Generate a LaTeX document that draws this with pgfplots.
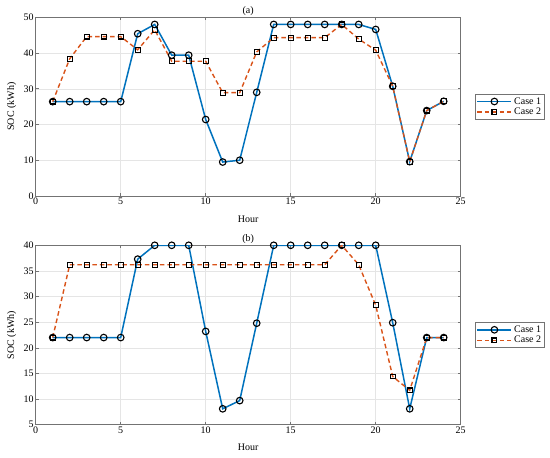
\documentclass[border=0pt]{standalone}
\usepackage{pgfplots}
\pgfplotsset{compat=1.18}
\usepackage{fontspec}
\setmainfont{Liberation Serif}
\definecolor{mblue}{rgb}{0,0.447,0.741}
\definecolor{morange}{rgb}{0.85,0.325,0.098}
\pgfplotsset{
  common/.style={
    anchor=south west, width=425bp, scale only axis,
    xmin=0, xmax=25, xtick={0,5,...,25},
    font=\fontsize{10bp}{11bp}\selectfont,
    /pgf/number format/assume math mode=true,
    grid=major, major grid style={black!10, line width=0.5bp},
    axis line style={black!55, line width=0.6bp},
    tick style={black!55, line width=0.6bp},
    tick align=inside, major tick length=3bp,
    xtick pos=both, ytick pos=both,
    xlabel={Hour}, ylabel={SOC (kWh)},
    xlabel style={at={(axis description cs:0.5,0)}, anchor=center, yshift=-23bp},
    ylabel style={at={(axis description cs:0,0.5)}, anchor=center, yshift=24bp},
    every axis title shift=0pt,
    title style={at={(axis description cs:0.5,1)}, anchor=south, yshift=0bp, inner sep=1bp},
    xticklabel style={inner sep=2bp},
    yticklabel style={inner sep=2bp},
    legend style={at={(axis description cs:1.034,0.571)}, anchor=north west,
      draw=black!55, line width=0.6bp, font=\fontsize{10bp}{11bp}\selectfont,
      inner sep=1.2bp, row sep=-1.5bp, cells={anchor=west}},
    legend image code/.code={%
      \draw[mark repeat=2,mark phase=2,##1] plot coordinates {(0bp,0bp) (17bp,0bp) (34bp,0bp)};},
  },
  c1/.style={mblue, line width=1.5bp, mark=o, mark size=3.3bp,
    mark options={draw=black, fill=white, line width=1.1bp, solid}},
  c2/.style={morange, line width=1.4bp, dashed, dash pattern=on 4.5bp off 3bp, mark=square, mark size=2.4bp,
    mark options={draw=black, fill=white, line width=1.1bp, solid}},
}
\begin{document}
\begin{tikzpicture}[x=1bp,y=1bp]
\useasboundingbox (0,0) rectangle (550,458);
\begin{axis}[common, at={(35.7bp,262bp)}, height=178.7bp,
  ymin=0, ymax=50, ytick={0,10,...,50}, title={(a)}]
\addplot[c1] coordinates {(1,26.4) (2,26.4) (3,26.4) (4,26.4) (5,26.4) (6,45.4) (7,48.0) (8,39.4) (9,39.4) (10,21.4) (11,9.5) (12,10.0) (13,29.0) (14,48.0) (15,48.0) (16,48.0) (17,48.0) (18,48.0) (19,48.0) (20,46.6) (21,30.7) (22,9.6) (23,23.9) (24,26.5)};
\addlegendentry{Case 1}
\addplot[c2] coordinates {(1,26.4) (2,38.4) (3,44.6) (4,44.6) (5,44.6) (6,40.9) (7,46.5) (8,37.7) (9,37.7) (10,37.7) (11,28.9) (12,28.9) (13,40.3) (14,44.3) (15,44.3) (16,44.3) (17,44.3) (18,48.0) (19,43.9) (20,40.8) (21,30.7) (22,9.6) (23,23.9) (24,26.5)};
\addlegendentry{Case 2}
\end{axis}
\begin{axis}[common, at={(35.7bp,33.3bp)}, height=179.4bp,
  ymin=5, ymax=40, ytick={5,10,...,40}, title={(b)}]
\addplot[c1] coordinates {(1,22.0) (2,22.0) (3,22.0) (4,22.0) (5,22.0) (6,37.3) (7,40) (8,40) (9,40) (10,23.2) (11,8.1) (12,9.7) (13,24.8) (14,40) (15,40) (16,40) (17,40) (18,40) (19,40) (20,40) (21,24.9) (22,8.1) (23,22.0) (24,22.0)};
\addlegendentry{Case 1}
\addplot[c2] coordinates {(1,22.0) (2,36.2) (3,36.2) (4,36.2) (5,36.2) (6,36.2) (7,36.2) (8,36.2) (9,36.2) (10,36.2) (11,36.2) (12,36.2) (13,36.2) (14,36.2) (15,36.2) (16,36.2) (17,36.2) (18,40) (19,36.2) (20,28.3) (21,14.4) (22,11.7) (23,22.0) (24,22.0)};
\addlegendentry{Case 2}
\end{axis}
\end{tikzpicture}
\end{document}
